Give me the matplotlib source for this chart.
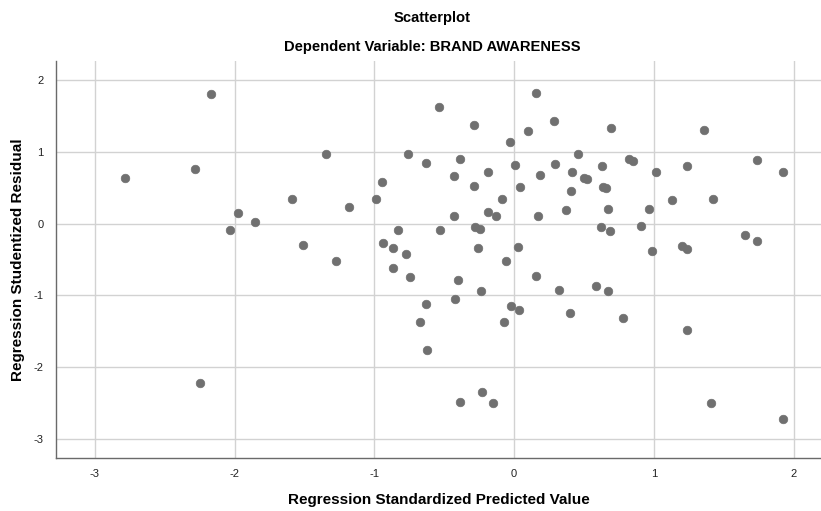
import matplotlib
matplotlib.use("Agg")
import matplotlib.pyplot as plt

plt.rcParams["font.family"] = ["Liberation Sans", "DejaVu Sans"]
plt.rcParams["axes.unicode_minus"] = False

# standardized predicted values (x) and studentized residuals (y)
pred = [
    -2.172, -2.783, -2.282, -1.347, -1.586, -1.180, -1.976, -1.853, -2.036, -1.514,
    -1.273, -2.251, -0.534, -0.286, 0.157, 0.288, 0.098, -0.031, -0.761, -0.629,
    -0.386, 0.009, 0.456, 0.296, 0.188, 0.413, 0.500, 0.520, -0.184, -0.429,
    -0.944, -0.286, 0.043, 0.410, -0.086, -0.987, 0.370, -0.184, -0.131, -0.431,
    0.172, -0.828, -0.529, -0.279, -0.243, -0.939, -0.870, -0.773, -0.260, 0.029,
    -0.060, -0.870, -0.744, -0.405, 0.155, -0.234, 0.320, -0.420, -0.629, -0.019,
    0.033, 0.398, -0.675, -0.074, -0.622, -0.229, -0.384, -0.148, 0.694, 1.361,
    0.825, 0.853, 0.627, 1.738, 1.235, 1.926, 1.013, 0.634, 0.658, 1.128,
    1.421, 0.672, 0.968, 0.624, 0.684, 0.906, 0.985, 1.202, 1.240, 1.650,
    1.738, 0.589, 0.670, 0.782, 1.240, 1.409, 1.926,
]
resid = [
    1.811, 0.643, 0.759, 0.978, 0.349, 0.237, 0.149, 0.024, -0.088, -0.293,
    -0.521, -2.225, 1.630, 1.374, 1.821, 1.430, 1.299, 1.145, 0.978, 0.852,
    0.908, 0.815, 0.969, 0.834, 0.676, 0.717, 0.640, 0.620, 0.717, 0.666,
    0.582, 0.531, 0.508, 0.452, 0.345, 0.341, 0.196, 0.159, 0.108, 0.103,
    0.103, -0.092, -0.088, -0.042, -0.074, -0.270, -0.335, -0.423, -0.344, -0.325,
    -0.525, -0.614, -0.744, -0.782, -0.735, -0.944, -0.930, -1.052, -1.126, -1.154,
    -1.205, -1.247, -1.369, -1.369, -1.764, -2.351, -2.490, -2.509, 1.341, 1.313,
    0.908, 0.871, 0.806, 0.894, 0.801, 0.722, 0.727, 0.517, 0.494, 0.335,
    0.341, 0.201, 0.201, -0.042, -0.098, -0.028, -0.386, -0.307, -0.349, -0.162,
    -0.246, -0.866, -0.944, -1.321, -1.489, -2.500, -2.728,
]
x_ticks = [-3, -2, -1, 0, 1, 2]
y_ticks = [-3, -2, -1, 0, 1, 2]


def main():
    fig = plt.figure(figsize=(8.21, 5.11), dpi=100)
    ax = fig.add_axes([0.0682, 0.1037, 0.9318, 0.7769])

    ax.scatter(pred, resid, s=38, color="#707070", edgecolors="#707070",
               linewidths=0.5, zorder=3)

    ax.set_xlim(-3.278, 2.196)
    ax.set_ylim(-3.272, 2.272)
    ax.set_xticks(x_ticks)
    ax.set_yticks(y_ticks)
    ax.grid(True, color="#d2d2d2", linewidth=1.0, zorder=0)
    ax.tick_params(length=0, labelsize=8, colors="#222222")
    ax.tick_params(axis="x", pad=8)
    ax.tick_params(axis="y", pad=9)

    for side in ("top", "right"):
        ax.spines[side].set_visible(False)
    for side in ("left", "bottom"):
        ax.spines[side].set_color("#6a6a6a")
        ax.spines[side].set_linewidth(1.0)

    ax.set_xlabel("Regression Standardized Predicted Value", fontsize=11,
                  fontweight="bold")
    ax.set_ylabel("Regression Studentized Residual", fontsize=11,
                  fontweight="bold")
    ax.xaxis.set_label_coords(0.5, -0.088)
    ax.yaxis.set_label_coords(-0.04, 0.5)

    fig.text(432 / 821, 1 - 18 / 511, "Scatterplot", ha="center", va="center",
             fontsize=10.6, fontweight="bold")
    fig.text(432 / 821, 1 - 47 / 511, "Dependent Variable: BRAND AWARENESS",
             ha="center", va="center", fontsize=10.6, fontweight="bold")

    fig.savefig("out.png", dpi=100)
    plt.close(fig)


if __name__ == "__main__":
    main()
